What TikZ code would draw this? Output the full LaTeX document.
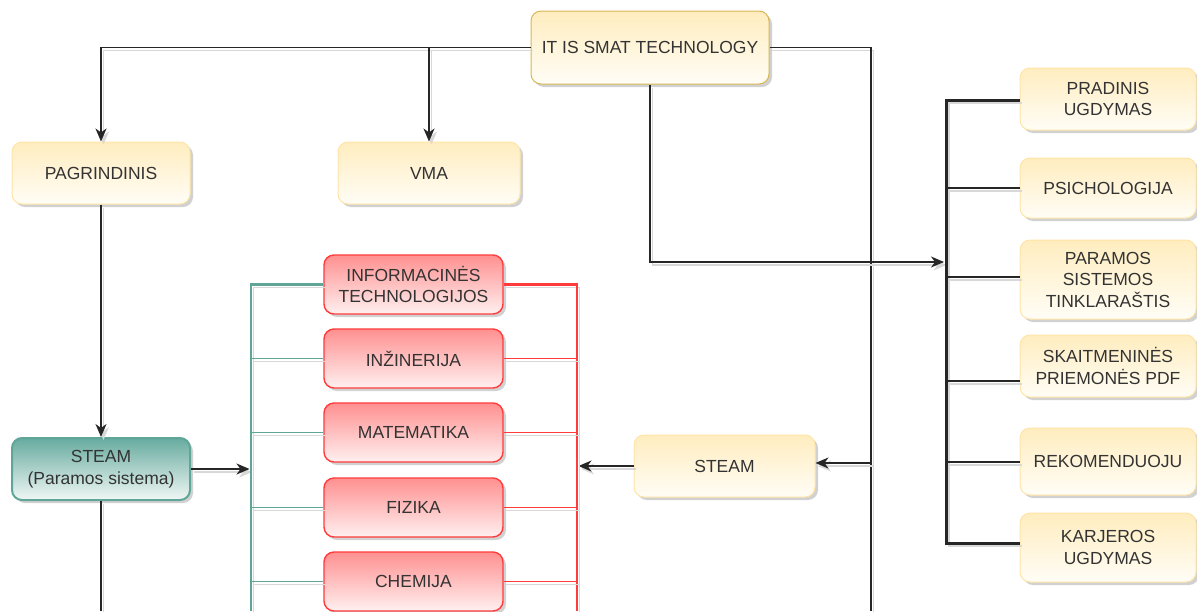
\documentclass[tikz,border=0pt]{standalone}
\usepackage{fontspec}
\setmainfont{Liberation Sans}
\usetikzlibrary{shadows,arrows.meta}

\definecolor{txt}{HTML}{333333}
\definecolor{ylwtop}{HTML}{FFEDBF}
\definecolor{ylwbot}{HTML}{FFFDF6}
\definecolor{ylwline}{HTML}{FFE4A6}
\definecolor{goldline}{HTML}{D6B656}
\definecolor{redtop}{HTML}{FF9090}
\definecolor{redbot}{HTML}{FFF0F0}
\definecolor{redline}{HTML}{FF3B3B}
\definecolor{tealtop}{HTML}{67AB9F}
\definecolor{tealbot}{HTML}{F0F7F5}
\definecolor{tealline}{HTML}{5FA698}
\definecolor{wireshadow}{HTML}{D8D8D8}

\tikzset{
  card/.style={rounded corners=10pt, inner sep=2pt, align=center,
    text=txt, font=\fontsize{17.5}{21.5}\selectfont, line width=1pt,
    drop shadow={shadow xshift=3pt, shadow yshift=-3pt, fill=black!40, opacity=0.45}},
  ylw/.style={card, draw=ylwline, top color=ylwtop, bottom color=ylwbot},
  redcard/.style={card, draw=redline, line width=1.4pt, top color=redtop, bottom color=redbot,
    minimum width=179pt, minimum height=59pt},
  tealcard/.style={card, draw=tealline, line width=2pt, top color=tealtop, bottom color=tealbot},
  sidecard/.style={ylw, minimum width=176pt},
  wire/.style={draw=black!85, line width=1.5pt,
    preaction={draw=wireshadow, line width=1.4pt,
      transform canvas={xshift=2.5pt, yshift=-3pt}}},
  heavywire/.style={wire, line width=3pt,
    preaction={draw=wireshadow, line width=2pt,
      transform canvas={xshift=2.5pt, yshift=-3pt}}},
  tealwire/.style={wire, draw=tealline, line width=1.7pt},
  redwire/.style={wire, draw=redline, line width=1.7pt},
  tip/.style={-{Stealth[length=13pt, width=11pt, inset=4pt]}},
}

\begin{document}
\begin{tikzpicture}[x=1pt, y=-1pt]
\useasboundingbox (0,0) rectangle (1197,611);

% top and left column
\node[ylw, draw=goldline, minimum width=238pt, minimum height=73pt] (it) at (650,47.5) {IT IS SMAT TECHNOLOGY};
\node[ylw, minimum width=178pt, minimum height=62pt] (pag) at (101,173) {PAGRINDINIS};
\node[ylw, minimum width=182pt, minimum height=62pt] (vma) at (429,173) {VMA};
\node[tealcard, minimum width=178pt, minimum height=62pt] (steamp) at (101,469) {STEAM\\(Paramos sistema)};
\node[ylw, minimum width=181pt, minimum height=62pt] (steamr) at (724.5,466) {STEAM};

% subject cards
\node[redcard] (info) at (413.5,284.5) {INFORMACINĖS\\TECHNOLOGIJOS};
\node[redcard] (inz)  at (413.5,358.5) {INŽINERIJA};
\node[redcard] (mat)  at (413.5,432.5) {MATEMATIKA};
\node[redcard] (fiz)  at (413.5,507.5) {FIZIKA};
\node[redcard] (chem) at (413.5,581.5) {CHEMIJA};

% right column
\node[sidecard, minimum height=62pt] (prad) at (1108,99)   {PRADINIS\\UGDYMAS};
\node[sidecard, minimum height=60pt] (psi)  at (1108,188)  {PSICHOLOGIJA};
\node[sidecard, minimum height=79pt] (par)  at (1108,279.5){PARAMOS\\SISTEMOS\\TINKLARAŠTIS};
\node[sidecard, minimum height=62pt] (ska)  at (1108,366)  {SKAITMENINĖS\\PRIEMONĖS PDF};
\node[sidecard, minimum height=67pt] (rek)  at (1108,461.5){REKOMENDUOJU};
\node[sidecard, minimum height=69pt] (kar)  at (1108,547.5){KARJEROS\\UGDYMAS};

% junction points
\coordinate (rdrop) at (871,611);
\coordinate (rjoin) at (871,463);
\coordinate (bend)  at (944,262);
\coordinate (bt)    at (946,100);
\coordinate (bb)    at (946,543);
\coordinate (b2)    at (946,188);
\coordinate (b3)    at (946,277);
\coordinate (b4)    at (946,381);
\coordinate (b5)    at (946,462);
\coordinate (tt)    at (251,284.5);
\coordinate (tb)    at (251,611);
\coordinate (rt)    at (577,284.5);
\coordinate (rb)    at (577,611);

% connectors from the top card
\draw[wire, tip] (it.west) -| (pag.north);
\draw[wire, tip] (it.west) -| (vma.north);
\draw[wire] (it.east) -| (rdrop);
\draw[wire, tip] (rjoin) -- (rjoin -| steamr.east);
\draw[wire, tip] (it.south) |- (bend);

% right bus
\draw[heavywire] (prad.west |- bt) -- (bt) -- (bb) -- (kar.west |- bb);
\draw[wire] (b2) -- (b2 -| psi.west);
\draw[wire] (b3) -- (b3 -| par.west);
\draw[wire] (b4) -- (b4 -| ska.west);
\draw[wire] (b5) -- (b5 -| rek.west);

% left column
\draw[wire, tip] (pag.south) -- (steamp.north);
\draw[wire] (steamp.south) -- (steamp.south |- tb);
\draw[wire, tip, shorten >=1.5pt] (steamp.east) -- (steamp.east -| tt);
\draw[wire, tip, shorten >=1.5pt] (steamr.west) -- (steamr.west -| rt);

% subject buses
\draw[tealwire, line width=2.4pt] (info.west) -- (tt) -- (tb);
\draw[redwire, line width=2.6pt] (info.east) -- (rt) -- (rb);
\foreach \n in {inz,mat,fiz,chem}{
  \draw[tealwire] (tt |- \n.west) -- (\n.west);
  \draw[redwire] (\n.east) -- (rt |- \n.east);
}
\end{tikzpicture}
\end{document}
